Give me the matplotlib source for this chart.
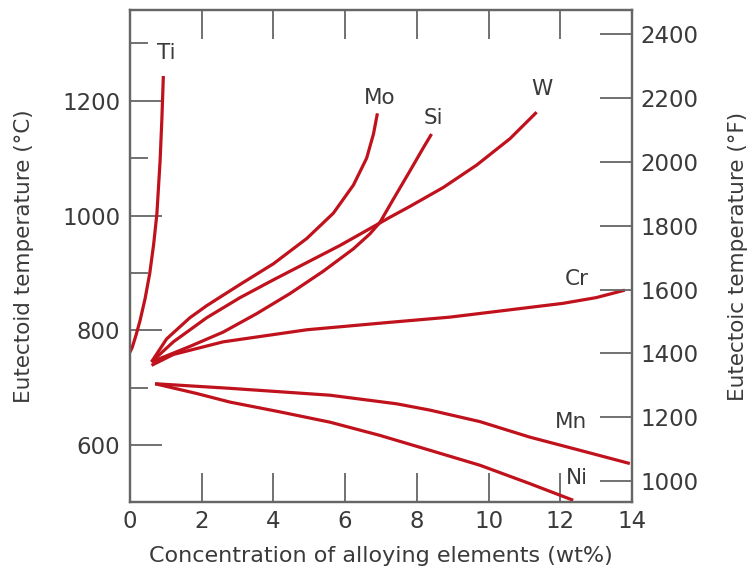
import matplotlib.pyplot as plt
import numpy as np

# wt% alloying element vs eutectoid temperature (C)
ti_wt = [0.0, 0.06, 0.17, 0.28, 0.42, 0.55, 0.66, 0.75, 0.84, 0.89, 0.93]
ti_T = [762, 770, 792, 817, 855, 899, 950, 1003, 1096, 1170, 1243]

mo_wt = [0.60, 1.02, 1.67, 2.14, 3.07, 4.0, 4.93, 5.67, 6.23, 6.60, 6.79, 6.90]
mo_T = [745, 785, 822, 843, 880, 916, 960, 1004, 1053, 1100, 1142, 1178]

si_wt = [0.60, 1.67, 2.60, 3.53, 4.46, 5.39, 6.23, 6.69, 6.97, 7.34, 7.81,
         8.18, 8.41]
si_T = [745, 772, 797, 829, 864, 903, 942, 968, 988, 1028, 1078, 1118, 1142]

w_wt = [0.60, 1.21, 2.14, 3.07, 4.0, 4.93, 5.86, 6.60, 7.25, 7.81, 8.74,
        9.67, 10.60, 11.34]
w_T = [745, 780, 822, 857, 888, 918, 948, 974, 997, 1016, 1049, 1088,
       1134, 1180]

cr_wt = [0.60, 1.21, 2.60, 4.93, 7.25, 8.92, 9.84, 12.07, 13.0, 13.8]
cr_T = [739, 758, 780, 801, 814, 823, 830, 847, 857, 870]

mn_wt = [0.70, 2.79, 5.58, 7.44, 8.37, 9.76, 11.15, 12.55, 13.94]
mn_T = [707, 699, 687, 672, 661, 641, 614, 591, 568]

ni_wt = [0.70, 1.86, 2.79, 4.18, 5.58, 6.97, 8.37, 9.76, 11.15, 12.36]
ni_T = [707, 690, 675, 658, 640, 617, 591, 565, 533, 504]

names = ['Ti', 'Mo', 'Si', 'W', 'Cr', 'Mn', 'Ni']
label_wt = [1.0, 6.95, 8.45, 11.5, 12.45, 12.3, 12.45]
label_T = [1283, 1205, 1170, 1221, 890, 640, 543]

curves = [(ti_wt, ti_T), (mo_wt, mo_T), (si_wt, si_T), (w_wt, w_T),
          (cr_wt, cr_T), (mn_wt, mn_T), (ni_wt, ni_T)]

red = '#c0121c'
grey = '#666666'
txt = '#3a3a3a'

fig = plt.figure(figsize=(7.53, 5.77), dpi=100)
ax = fig.add_axes([130/753, 75/577, 502/753, 492/577])

for x, y in curves:
    ax.plot(x, y, color=red, lw=2.3, solid_capstyle='butt',
            solid_joinstyle='round')
for n, x, y in zip(names, label_wt, label_T):
    ax.text(x, y, n, fontsize=15.5, color=txt, ha='center', va='center')

ax.set_xlim(0, 14)
ax.set_ylim(501, 1358)
ax.set_xticks(np.arange(0, 15, 2))
ax.set_yticks([600, 800, 1000, 1200])
ax.set_yticks([700, 900, 1100, 1300], minor=True)
ax.tick_params(axis='x', direction='in', length=21, width=1.3, color=grey,
               top=True, labelsize=16.5, labelcolor=txt, pad=6)
ax.tick_params(axis='y', which='major', direction='in', length=23, width=1.3,
               color=grey, labelsize=16.5, labelcolor=txt, pad=7)
ax.tick_params(axis='y', which='minor', direction='in', length=13, width=1.3,
               color=grey)
for s in ax.spines.values():
    s.set_color(grey)
    s.set_linewidth(1.6)

ax.set_xlabel('Concentration of alloying elements (wt%)', fontsize=16,
              color=txt, labelpad=9)
ax.set_ylabel('Eutectoid temperature (°C)', fontsize=15.5, color=txt,
              labelpad=20)

ax2 = ax.twinx()
lo, hi = ax.get_ylim()
ax2.set_ylim(lo * 9 / 5 + 32, hi * 9 / 5 + 32)
ax2.set_yticks(np.arange(1000, 2401, 200))
ax2.tick_params(axis='y', direction='in', length=23, width=1.3, color=grey,
                labelsize=16.5, labelcolor=txt, pad=6)
for s in ax2.spines.values():
    s.set_color(grey)
    s.set_linewidth(1.6)
ax2.set_ylabel('Eutectoic temperature (°F)', fontsize=15.5, color=txt,
               labelpad=21)

fig.savefig('out.png', dpi=100)
